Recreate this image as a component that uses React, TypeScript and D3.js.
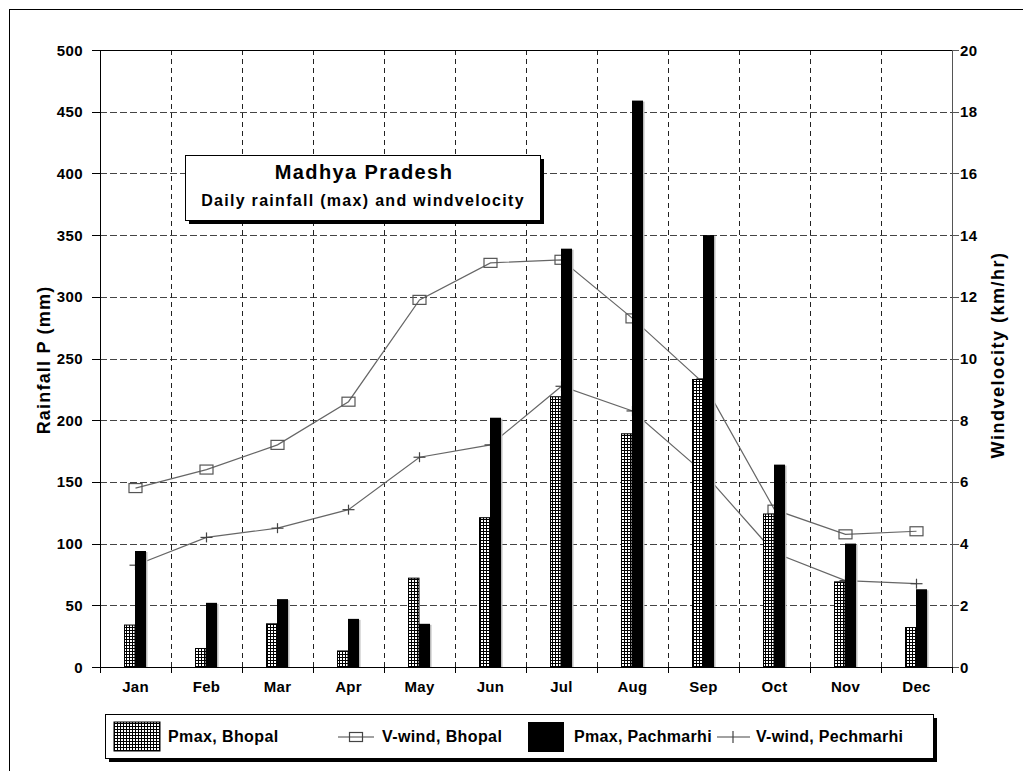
import React from "react";
import * as d3 from "d3";

const months = ["Jan", "Feb", "Mar", "Apr", "May", "Jun", "Jul", "Aug", "Sep", "Oct", "Nov", "Dec"];
const pmaxBhopal = [34, 15, 35, 13, 72, 121, 219, 189, 233, 124, 69, 32];
const pmaxPachmarhi = [94, 52, 55, 39, 35, 202, 339, 459, 350, 164, 100, 63];
const windBhopal = [5.8, 6.4, 7.2, 8.6, 11.9, 13.1, 13.2, 11.3, 9.2, 5.1, 4.3, 4.4];
const windPechmarhi = [3.3, 4.2, 4.5, 5.1, 6.8, 7.2, 9.1, 8.3, 6.3, 3.7, 2.8, 2.7];
const leftTicks = [0, 50, 100, 150, 200, 250, 300, 350, 400, 450, 500];
const rightTicks = [0, 2, 4, 6, 8, 10, 12, 14, 16, 18, 20];

const W = 1023, H = 771;
const L = 100, R = 952, T = 50, B = 667;
const FONT = "'Liberation Sans', Arial, Helvetica, sans-serif";

export default function App() {
  const x = d3.scaleBand<string>().domain(months).range([L, R]).paddingInner(0).paddingOuter(0);
  const yL = d3.scaleLinear().domain([0, 500]).range([B, T]);
  const yR = d3.scaleLinear().domain([0, 20]).range([B, T]);
  const cx = (m: string) => (x(m) as number) + x.bandwidth() / 2;
  const bw = 10.5;

  const lineB = d3.line<number>().x((_, i) => cx(months[i])).y((v) => yR(v));
  const boundaries = d3.range(months.length + 1).map((i) => L + i * x.bandwidth());

  return (
    <svg width={W} height={H} style={{ position: "absolute", left: 0, top: 0, background: "#fff" }} fontFamily={FONT}>
      <defs>
        <pattern id="hatch" patternUnits="userSpaceOnUse" width={3} height={3} x={0} y={0}>
          <rect width={3} height={3} fill="#fff" />
          <rect x={0} y={0} width={1} height={3} fill="#000" />
          <rect x={0} y={0} width={3} height={1} fill="#000" />
        </pattern>
      </defs>
      <rect x={0} y={0} width={W} height={H} fill="#fff" />
      {/* outer frame */}
      <rect x={9.5} y={9.5} width={1200} height={1200} fill="none" stroke="#000" strokeWidth={1} />

      {/* horizontal grid */}
      {leftTicks.filter((t) => t > 0 && t < 500).map((t) => (
        <line key={"hg" + t} x1={L} x2={R} y1={Math.round(yL(t)) + 0.5} y2={Math.round(yL(t)) + 0.5}
          stroke="#444" strokeWidth={1} strokeDasharray="7,3" />
      ))}
      {/* vertical grid */}
      {boundaries.slice(1, -1).map((bx, i) => (
        <line key={"vg" + i} x1={Math.round(bx) + 0.5} x2={Math.round(bx) + 0.5} y1={T} y2={B}
          stroke="#222" strokeWidth={1} strokeDasharray="5,4" />
      ))}
      {/* top line */}
      <line x1={L} x2={R} y1={T + 0.5} y2={T + 0.5} stroke="#000" strokeWidth={1} />

      {/* wind lines (behind bars) */}
      <path d={lineB(windBhopal) || ""} fill="none" stroke="#666" strokeWidth={1.2} />
      <path d={lineB(windPechmarhi) || ""} fill="none" stroke="#666" strokeWidth={1.2} />
      {windBhopal.map((v, i) => (
        <rect key={"sq" + i} x={cx(months[i]) - 6.5} y={yR(v) - 4.5} width={13} height={9}
          fill="none" stroke="#555" strokeWidth={1.2} />
      ))}
      {windPechmarhi.map((v, i) => (
        <g key={"pl" + i} stroke="#444" strokeWidth={1.2}>
          <line x1={cx(months[i]) - 6} x2={cx(months[i]) + 6} y1={yR(v)} y2={yR(v)} />
          <line x1={cx(months[i])} x2={cx(months[i])} y1={yR(v) - 5} y2={yR(v) + 5} />
        </g>
      ))}

      {/* bars */}
      {pmaxBhopal.map((v, i) => (
        <rect key={"bb" + i} x={cx(months[i]) - bw - 0.5} y={yL(v)} width={bw} height={B - yL(v)}
          fill="url(#hatch)" stroke="#000" strokeWidth={1} />
      ))}
      {pmaxPachmarhi.map((v, i) => (
        <g key={"bp" + i}>
          <rect x={cx(months[i]) + bw - 0.5} y={yL(v) + 1} width={2} height={B - yL(v) - 1} fill="#bbb" />
          <rect x={cx(months[i]) - 0.5} y={yL(v)} width={bw + 0.5} height={B - yL(v)} fill="#000" />
        </g>
      ))}

      {/* axes */}
      <line x1={L + 0.5} x2={L + 0.5} y1={T} y2={B} stroke="#000" strokeWidth={1} />
      <line x1={R + 0.5} x2={R + 0.5} y1={T} y2={B} stroke="#555" strokeWidth={1} />
      <line x1={L} x2={R} y1={B + 0.5} y2={B + 0.5} stroke="#000" strokeWidth={1} />
      {leftTicks.map((t) => (
        <g key={"lt" + t}>
          <line x1={L - 8} x2={L} y1={Math.round(yL(t)) + 0.5} y2={Math.round(yL(t)) + 0.5} stroke="#000" />
          <text x={83} y={yL(t) + 5.5} textAnchor="end" fontSize={15} fontWeight="bold" letterSpacing={0.4}>{t}</text>
        </g>
      ))}
      {rightTicks.map((t) => (
        <g key={"rt" + t}>
          <line x1={R} x2={R + 7} y1={Math.round(yR(t)) + 0.5} y2={Math.round(yR(t)) + 0.5} stroke="#555" />
          <text x={960} y={yR(t) + 5.5} textAnchor="start" fontSize={15} fontWeight="bold" letterSpacing={0.4}>{t}</text>
        </g>
      ))}
      {boundaries.map((bx, i) => (
        <line key={"bt" + i} x1={Math.round(bx) + 0.5} x2={Math.round(bx) + 0.5} y1={B} y2={B + 6} stroke="#000" />
      ))}
      {months.map((m) => (
        <text key={"ml" + m} x={cx(m)} y={692} textAnchor="middle" fontSize={15} fontWeight="bold" letterSpacing={0.3}>{m}</text>
      ))}

      {/* axis titles */}
      <text transform={`translate(50,360) rotate(-90)`} textAnchor="middle" fontSize={18} fontWeight="bold" letterSpacing={1.2}>
        Rainfall P (mm)
      </text>
      <text transform={`translate(1004,355) rotate(-90)`} textAnchor="middle" fontSize={18} fontWeight="bold" letterSpacing={1.5}>
        Windvelocity (km/hr)
      </text>

      {/* title box */}
      <rect x={189} y={159} width={355} height={65} fill="#000" />
      <rect x={185.5} y={155.5} width={355} height={65} fill="#fff" stroke="#000" strokeWidth={1} />
      <text x={364} y={179} textAnchor="middle" fontSize={20} fontWeight="bold" letterSpacing={1.4}>Madhya Pradesh</text>
      <text x={363} y={206} textAnchor="middle" fontSize={16} fontWeight="bold" letterSpacing={1.3}>Daily rainfall (max) and windvelocity</text>

      {/* legend */}
      <rect x={109} y={718} width={828} height={44} fill="#000" />
      <rect x={105.5} y={714.5} width={828} height={44} fill="#fff" stroke="#000" strokeWidth={1} />
      <rect x={114} y={722} width={46} height={29} fill="url(#hatch)" stroke="#000" strokeWidth={1} />
      <text x={168} y={742} fontSize={16} fontWeight="bold" letterSpacing={0.4}>Pmax, Bhopal</text>
      <line x1={338} x2={374} y1={737} y2={737} stroke="#444" strokeWidth={1.2} />
      <rect x={356 - 6.5} y={737 - 4.5} width={13} height={9} fill="none" stroke="#444" strokeWidth={1.2} />
      <text x={382} y={742} fontSize={16} fontWeight="bold" letterSpacing={0.4}>V-wind, Bhopal</text>
      <rect x={528} y={722} width={36} height={30} fill="#000" />
      <text x={574} y={742} fontSize={16} fontWeight="bold" letterSpacing={0.3}>Pmax, Pachmarhi</text>
      <line x1={717} x2={750} y1={737} y2={737} stroke="#444" strokeWidth={1.2} />
      <line x1={733} x2={733} y1={731} y2={743} stroke="#444" strokeWidth={1.2} />
      <text x={756} y={742} fontSize={16} fontWeight="bold" letterSpacing={0.3}>V-wind, Pechmarhi</text>
    </svg>
  );
}
